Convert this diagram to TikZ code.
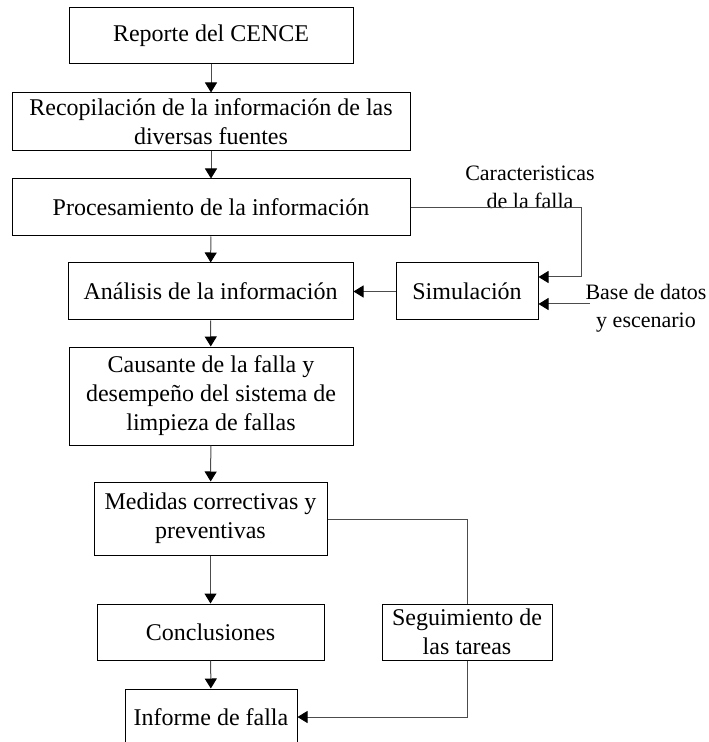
\documentclass[tikz,border=0pt]{standalone}
\usepackage{fontspec}
\setmainfont{Liberation Serif}
\usetikzlibrary{arrows.meta}
\begin{document}
\begin{tikzpicture}[x=0.5pt,y=-0.5pt,
  box/.style={draw=black,line width=0.5pt,inner sep=0pt,align=center,
    font=\fontsize{12}{14.5}\selectfont},
  lbl/.style={inner sep=0pt,align=center,font=\fontsize{11}{14}\selectfont},
  conn/.style={draw=black!70,line width=0.5pt},
  arr/.style={conn,-{Triangle[length=5pt,width=6pt,fill=black,color=black]}}]
\useasboundingbox (0,0) rectangle (708,742);
\clip (0,0) rectangle (708,742);
\node[box,minimum width=142pt,minimum height=28pt] (rep) at (211,36) {Reporte del CENCE};
\node[box,minimum width=199pt,minimum height=29pt] (rec) at (211,122) {Recopilación de la información de las\\diversas fuentes};
\node[box,minimum width=199pt,minimum height=28.5pt] (pro) at (211,207.5) {Procesamiento de la información};
\node[box,minimum width=142.5pt,minimum height=28.5pt] (ana) at (210.5,291.5) {Análisis de la información};
\node[box,minimum width=71pt,minimum height=28.5pt] (sim) at (467,291.5) {Simulación};
\node[box,minimum width=142pt,minimum height=49pt] (cau) at (211,396) {Causante de la falla y\\desempeño del sistema de\\limpieza de fallas};
\node[box,minimum width=116.5pt,minimum height=36.5pt] (med) at (210.5,518.5) {Medidas correctivas y\\preventivas};
\node[box,minimum width=113.5pt,minimum height=28pt] (con) at (210.5,632) {Conclusiones};
\node[box,minimum width=85pt,minimum height=28pt] (seg) at (467,632) {Seguimiento de\\las tareas};
\node[box,minimum width=86pt,minimum height=28pt] (inf) at (211,717) {Informe de falla};
\node[lbl] (car) at (530,187) {Caracteristicas\\de la falla};
\node[lbl] (bas) at (646,308) {Base de datos\\y escenario};
\coordinate (c1) at (581,208);
\coordinate (c2) at (590,304);
\coordinate (c3) at (467,519);
\coordinate (c4) at (467,717);
\draw[arr] (rep) -- (rec);
\draw[arr] (rec) -- (pro);
\draw[arr] (pro) -- (ana);
\draw[arr] (ana) -- (cau);
\draw[arr] (cau) -- (med);
\draw[arr] (med) -- (con);
\draw[arr] (con) -- (inf);
\draw[arr] (sim) -- (ana);
\draw[arr] (pro.east |- c1) -- (c1) |- ([yshift=7.25pt]sim.east);
\draw[arr] (c2) -- (c2 -| sim.east);
\draw[conn] (med.east |- c3) -- (c3) -- (seg.north);
\draw[arr] (seg.south) -- (c4) -- (c4 -| inf.east);
\end{tikzpicture}
\end{document}
